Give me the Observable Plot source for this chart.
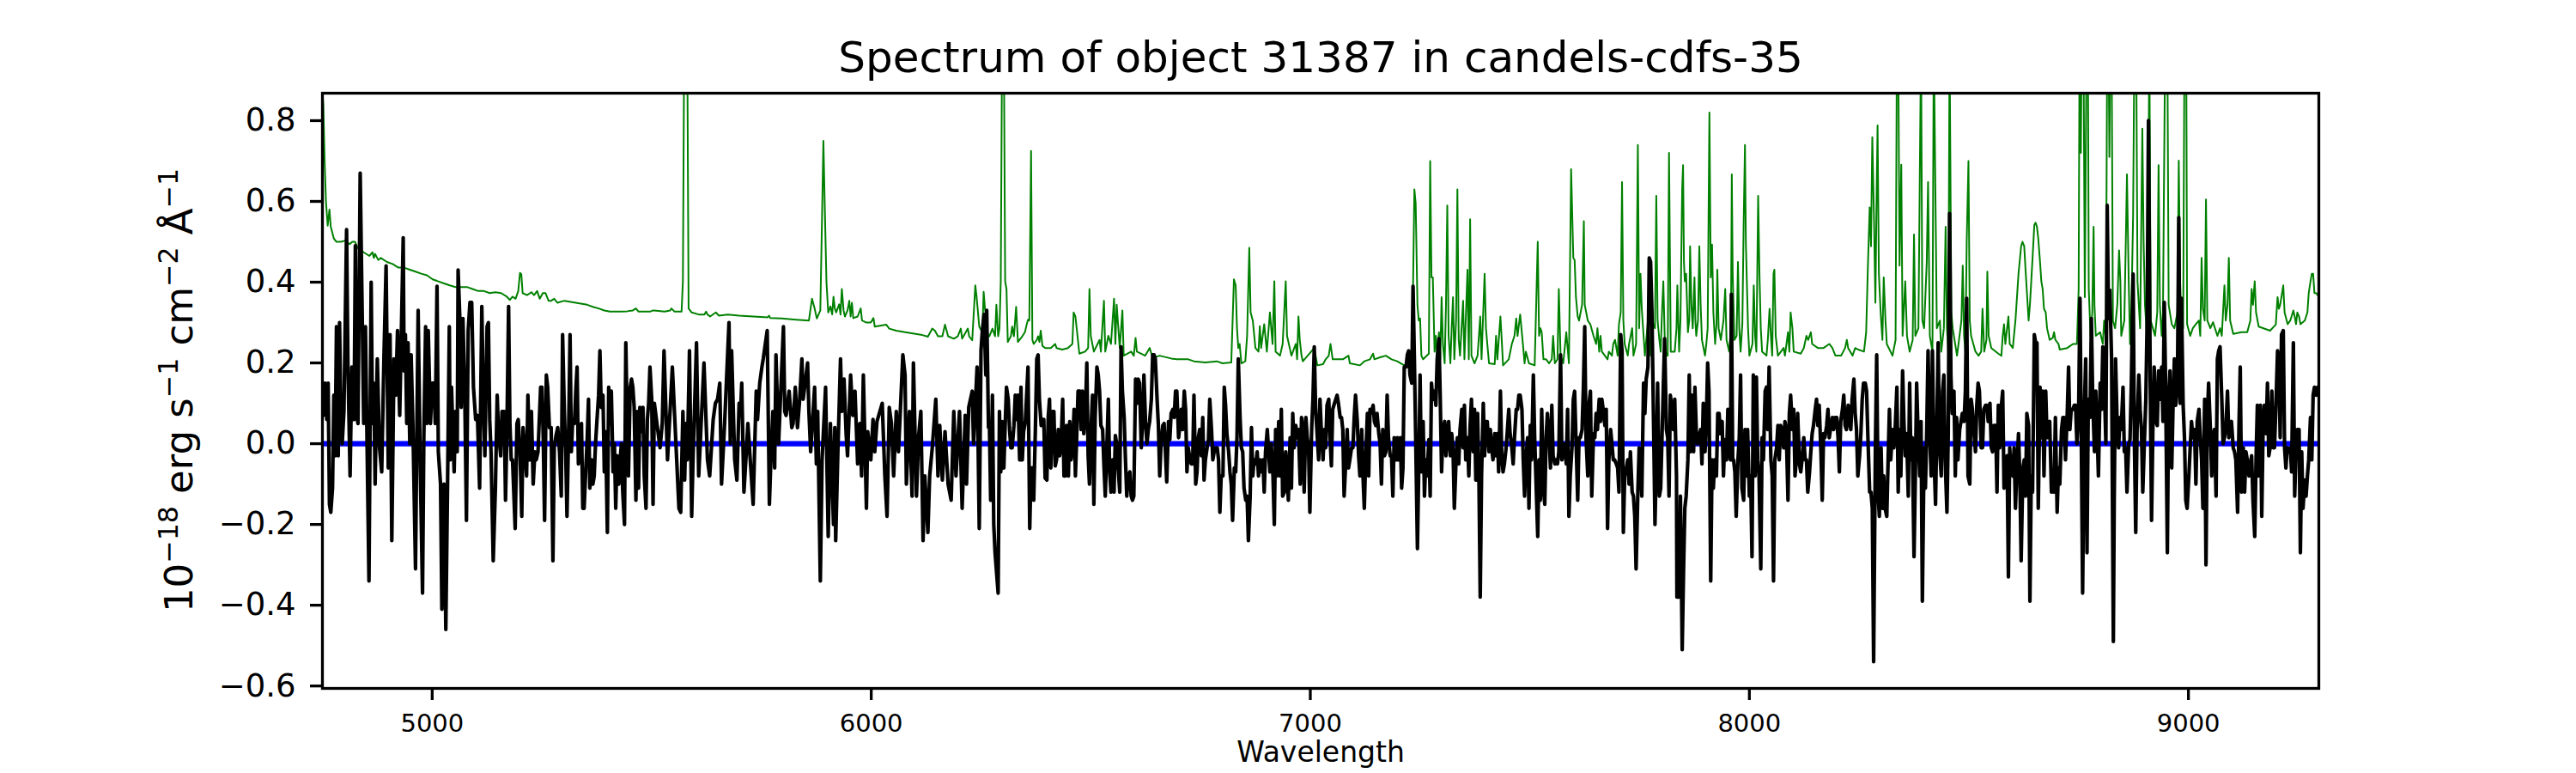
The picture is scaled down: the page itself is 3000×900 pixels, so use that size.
<!DOCTYPE html>
<html>
<head>
<meta charset="utf-8">
<script src="https://cdn.jsdelivr.net/npm/d3@7"></script>
<script src="https://cdn.jsdelivr.net/npm/@observablehq/plot@0.6"></script>
<style>
  html, body { margin: 0; padding: 0; background: white; }
  #chart svg { display: block; }
</style>
</head>
<body>
<div id="chart"></div>
<script>
const titleText = "Spectrum of object 31387 in candels-cdfs-35";
const xLabelText = "Wavelength";
// y label parts: [text, isSuperscript]
const yLabelParts = [["10", false], ["\u221218", true], [" erg s", false], ["\u22121", true], [" cm", false], ["\u22122", true], [" \u00c5", false], ["\u22121", true]];

const xTicks = [5000, 6000, 7000, 8000, 9000];
const yTicks = [-0.6, -0.4, -0.2, 0.0, 0.2, 0.4, 0.6, 0.8];
const xRange = [4750, 9297];
const yRange = [-0.606, 0.868];

// model / continuum (blue)
const model = [[4750, 0], [9297, 0]];

// object flux (black): [wavelength (Angstrom), flux (1e-18 erg/s/cm2/A)]
const flux = [
[4752,.07],[4756,.15],[4760,.06],[4763,.15],[4766,-.15],[4769,-.17],[4773,-.11],[4776,.12],[4779,-.03],[4782,.29],[4786,-.03],[4789,.30],[4792,.07],[4795,0],[4799,.08],[4805,.53],[4808,.20],[4813,-.08],[4817,.19],[4822,.06],[4825,.49],[4828,.07],[4831,.05],[4836,.67],[4841,.29],[4844,.05],[4848,.29],[4851,.05],[4856,-.34],[4861,.40],[4864,.05],[4867,.15],[4870,-.10],[4875,.21],[4880,-.01],[4885,-.07],[4890,.21],[4895,.44],[4900,-.06],[4904,.27],[4908,-.24],[4913,.21],[4917,.12],[4921,.28],[4926,.07],[4930,.29],[4934,.51],[4936,.18],[4939,.27],[4942,.05],[4945,.25],[4949,0],[4952,.22],[4956,.05],[4962,-.31],[4965,.02],[4968,.33],[4973,-.07],[4978,-.37],[4981,.02],[4985,.29],[4988,.05],[4991,.28],[4996,.05],[5000,.15],[5004,.15],[5007,.05],[5011,.39],[5014,-.02],[5019,-.10],[5022,-.41],[5027,-.10],[5031,-.46],[5035,-.10],[5039,.29],[5041,-.04],[5044,.14],[5046,.07],[5050,-.07],[5053,.08],[5057,-.02],[5059,.43],[5063,.31],[5066,.09],[5070,.31],[5074,.14],[5078,-.19],[5082,.28],[5086,.35],[5090,.35],[5094,.14],[5099,.06],[5103,.07],[5108,-.11],[5113,.34],[5117,.09],[5120,-.03],[5125,.29],[5128,.30],[5131,.06],[5134,-.02],[5139,-.29],[5144,-.11],[5148,.12],[5151,.03],[5156,-.03],[5159,.08],[5164,.08],[5167,-.14],[5170,.02],[5174,.34],[5177,.05],[5180,-.04],[5183,-.04],[5189,-.21],[5193,.05],[5196,.06],[5200,-.02],[5204,-.18],[5207,.04],[5211,-.02],[5215,-.08],[5218,.12],[5222,-.04],[5226,.08],[5230,-.10],[5234,-.02],[5237,-.04],[5241,-.02],[5247,.14],[5250,.14],[5253,.01],[5256,-.19],[5260,.17],[5263,.14],[5267,.04],[5271,.04],[5275,-.29],[5278,-.01],[5282,.02],[5286,.04],[5290,-.02],[5294,-.13],[5297,.27],[5301,.08],[5304,-.02],[5307,-.18],[5311,.05],[5314,.27],[5317,-.02],[5320,.06],[5324,.05],[5327,.13],[5330,.19],[5333,-.05],[5337,.01],[5340,.05],[5343,-.16],[5346,-.16],[5350,-.06],[5353,.01],[5356,.11],[5359,-.11],[5363,-.04],[5366,-.10],[5369,-.08],[5372,0],[5376,.07],[5379,.12],[5382,.23],[5385,.09],[5389,.12],[5392,-.07],[5395,.03],[5399,-.22],[5402,.14],[5405,.05],[5408,.13],[5412,-.07],[5415,0],[5418,-.16],[5421,-.03],[5425,-.10],[5428,-.04],[5431,0],[5434,-.12],[5438,-.20],[5441,.25],[5444,.06],[5447,-.08],[5451,.14],[5454,.16],[5457,.14],[5460,.09],[5464,-.14],[5467,.08],[5470,-.11],[5473,.09],[5477,.03],[5480,.09],[5483,-.08],[5487,-.16],[5490,.06],[5493,.10],[5496,.19],[5500,.11],[5503,-.15],
[5506,.10],[5513,.04],[5519,-.01],[5524,.05],[5528,.23],[5536,-.04],[5547,.19],[5562,-.16],[5566,-.17],[5571,.08],[5575,-.09],[5578,.05],[5581,-.04],[5586,.23],[5591,-.18],[5594,-.04],[5602,.25],[5607,-.08],[5619,.20],[5627,-.04],[5632,-.08],[5640,.06],[5645,.10],[5650,.11],[5655,.15],[5659,-.10],[5666,.05],[5676,.30],[5679,0],[5682,.23],[5689,-.04],[5694,-.09],[5699,.10],[5702,.07],[5705,.15],[5710,-.12],[5715,-.03],[5719,.05],[5731,-.15],[5738,.13],[5741,.06],[5746,.15],[5751,.19],[5754,.21],[5763,.28],[5768,-.15],[5772,-.02],[5776,.08],[5780,-.06],[5783,.22],[5789,0],[5800,.29],[5803,.08],[5806,.07],[5813,.13],[5819,.04],[5822,.05],[5827,.14],[5832,.04],[5837,.11],[5842,.21],[5845,.11],[5855,.20],[5858,.08],[5862,-.02],[5871,.14],[5875,-.05],[5878,.08],[5884,-.34],[5888,-.04],[5896,.14],[5902,-.23],[5907,.05],[5914,-.20],[5917,.04],[5919,-.24],[5924,-.02],[5930,.21],[5933,.08],[5938,.16],[5943,.02],[5946,-.03],[5953,.17],[5958,.07],[5963,.13],[5969,-.05],[5974,.05],[5978,-.08],[5982,.17],[5989,-.16],[5992,.03],[5999,-.04],[6004,.06],[6008,-.02],[6013,.055],[6025,.10],[6031,-.08],[6036,-.18],[6041,.09],[6046,.05],[6051,-.08],[6057,.08],[6062,-.02],[6072,.22],[6077,.17],[6080,-.10],[6087,.08],[6093,-.13],[6096,.20],[6103,-.13],[6108,.02],[6113,.08],[6118,-.24],[6122,-.08],[6129,-.22],[6133,-.08],[6139,-.01],[6147,.11],[6152,-.08],[6156,.045],[6162,-.09],[6168,.03],[6175,-.10],[6182,-.14],[6188,.08],[6193,-.08],[6201,.08],[6207,-.16],[6214,.07],[6217,-.10],[6222,.09],[6230,.13],[6233,0],[6241,.19],[6246,-.21],[6250,.23],[6253,.28],[6257,.32],[6261,.17],[6263,.33],[6267,.04],
[6269,.055],[6272,-.14],[6276,.12],[6279,-.20],[6282,-.27],[6289,-.37],[6292,.08],[6295,-.07],[6298,.055],[6302,-.06],[6305,.045],[6308,.14],[6312,.11],[6315,.035],[6318,-.01],[6321,-.01],[6325,.045],[6328,.12],[6331,.06],[6334,.12],[6338,-.04],[6341,.14],[6344,-.04],[6347,.03],[6351,.055],[6357,.19],[6361,-.21],[6364,-.06],[6367,-.06],[6370,-.14],[6374,.045],[6377,.21],[6380,.22],[6383,.11],[6387,.045],[6390,.06],[6393,.06],[6396,-.085],[6400,-.09],[6403,.065],[6406,.11],[6409,-.06],[6413,.08],[6416,.08],[6419,-.055],[6422,-.04],[6426,.035],[6429,-.03],[6432,-.01],[6436,.11],[6439,-.08],[6442,-.08],[6445,.045],[6449,-.08],[6452,.055],[6455,-.04],[6458,-.02],[6462,.085],[6465,-.08],[6468,.02],[6471,.13],[6475,.13],[6478,.035],[6481,.13],[6484,.025],[6488,.085],[6491,.20],[6494,-.03],[6497,-.10],[6501,.045],[6504,.12],[6507,-.15],[6510,.065],[6514,.19],[6517,.17],[6520,.13],[6523,.045],[6527,.035],[6530,-.055],[6533,-.13],[6536,-.03],[6540,.11],[6543,-.07],[6546,-.12],[6550,-.04],[6553,-.12],[6556,.02],[6559,0],[6563,-.07],[6566,-.12],[6569,.24],[6572,.13],[6576,.065],[6579,-.04],[6582,-.13],[6585,-.08],[6589,-.07],[6592,-.13],[6595,-.14],[6598,-.13],[6602,.16],[6605,.10],[6608,.16],[6611,.15],[6615,-.01],[6618,.055],[6621,.17],[6625,.045],[6628,0],[6631,.035],[6634,.055],[6638,.11],[6641,.22],[6644,.22],[6647,.21],[6651,.11],[6654,.045],[6657,-.08],[6660,0],[6664,.045],[6667,.05],[6670,-.02],[6673,-.095],[6677,.055],[6680,.01],[6683,.075],[6687,.085],[6690,.065],[6693,.13],[6696,.13],[6700,.015],[6703,.045],[6706,.085],[6709,.035],[6713,.13],[6716,.085],[6719,-.07],[6722,-.01],[6726,-.04],[6729,-.05],[6732,-.05],[6735,.12],[6739,-.10],[6742,-.07],[6745,.015],[6748,.035],[6752,-.03],[6755,.065],[6758,-.09],[6761,-.04],[6765,-.01],[6768,.01],[6771,.11],[6775,.035],[6778,-.04],[6781,-.02],[6784,-.01],[6788,-.01],[6791,-.04],[6794,-.17],[6797,-.08],[6801,-.08],[6804,.14],[6807,.095],[6810,.025],[6814,-.02],[6817,-.07],[6820,-.10],[6823,-.19],[6827,-.06],[6830,-.07],[6833,.015],[6836,.21],[6840,.065],[6843,-.01],[6846,-.02],[6849,-.11],[6853,-.14],[6856,-.13],[6859,-.24],[6863,-.13],[6866,.04],[6869,-.08],[6872,-.04],[6876,-.05],[6879,-.02],[6882,-.08],[6885,-.04],[6889,-.07],[6892,-.04],[6895,-.12],[6898,-.02],[6902,.035],[6905,-.02],[6908,-.07],[6911,0],[6915,-.08],[6918,-.20],[6921,.035],[6924,-.08],[6928,.055],[6931,-.08],[6934,.085],[6937,-.13],[6941,-.12],[6944,-.02],[6947,-.07],[6950,-.14],[6954,.015],[6957,-.11],[6960,.075],[6963,-.01],[6967,.045],[6970,.015],[6973,.035],[6977,-.10],[6980,.065],[6983,.045],[6986,-.12],[6990,.065],[6993,.015],[6996,-.01],[6999,-.17],[7003,.035],[7006,.11],[7009,.24],[7012,.09],[7016,.015],[7019,-.04],[7022,.11],[7025,.035],[7029,-.04],
[7032,.035],[7035,-.01],[7038,.095],[7042,.11],[7045,.015],[7048,-.055],[7051,.085],[7055,.10],[7058,.11],[7061,.12],[7064,.10],[7068,.065],[7071,.065],[7074,.035],[7077,-.13],[7081,-.04],[7084,.035],[7087,-.06],[7090,-.04],[7094,-.01],[7097,-.01],[7100,.065],[7103,.12],[7107,.055],[7110,-.03],[7113,-.08],[7117,.035],[7120,-.08],[7123,-.16],[7126,-.04],[7130,.075],[7133,-.08],[7136,.085],[7139,.075],[7143,.095],[7146,.055],[7149,.045],[7152,.075],[7156,.025],[7159,0],[7162,-.10],[7165,.035],[7169,-.03],[7172,-.02],[7175,.12],[7178,.015],[7182,-.03],[7185,-.03],[7188,-.13],[7191,.015],[7195,-.04],[7198,.015],[7201,-.04],[7205,.015],[7208,-.11],[7211,-.06],[7214,.19],[7218,.19],[7221,.22],[7224,.23],[7227,.17],[7231,.15],[7234,.39],[7237,.21],[7240,.015],[7244,-.26],[7247,-.06],[7250,.17],[7253,-.07],[7257,.055],[7260,-.13],[7263,-.04],[7266,-.08],[7270,.01],[7273,-.13],[7276,.15],[7279,.11],[7283,.13],[7286,.095],[7289,.21],[7293,.26],[7296,.11],[7299,-.07],[7302,.025],[7306,.055],[7309,-.03],[7312,.015],[7315,.055],[7319,-.03],[7322,.025],[7325,-.01],[7328,-.16],[7332,-.04],[7335,.015],[7338,-.05],[7341,.035],[7345,.085],[7348,-.01],[7351,.095],[7354,-.04],[7358,.015],[7361,-.08],[7364,.045],[7367,.11],[7371,-.02],[7374,.085],[7377,-.09],[7381,.075],[7384,-.08],[7387,-.38],[7390,-.08],[7394,.10],[7397,-.03],[7400,.055],[7403,.055],[7407,-.02],[7410,.035],[7413,-.01],[7416,-.04],[7420,.025],[7423,-.03],[7426,.025],[7429,-.07],[7433,.13],[7436,-.03],[7439,-.07],[7442,-.05],[7446,-.01],[7449,.035],[7452,.085],[7455,.025],[7459,-.01],[7462,-.05],[7465,.015],[7469,.085],[7472,.085],[7475,.12],[7478,.12],[7482,.085],[7485,-.04],[7488,-.13],[7491,-.04],[7495,.015],[7498,-.16],[7501,.045],[7504,-.04],[7508,.17],[7511,.015],[7514,-.09],[7518,-.23],[7521,-.04],[7524,-.14],[7527,.085],[7531,-.11],[7534,-.15],[7537,.015],[7540,.075],[7544,.015],[7547,-.06],[7550,.095],[7553,-.03],[7557,-.05],[7560,-.04],[7563,-.05],[7566,-.02],[7570,.22],[7573,-.04],[7576,0],[7579,-.01],[7583,-.05],[7586,.085],[7589,-.18],[7592,-.08],[7596,-.01],[7599,.11],[7602,.13],[7605,.015],[7609,-.14],[7612,.015],[7615,.015],[7619,.035],[7622,.14],[7625,.29],[7628,.015],[7632,-.08],[7635,.10],[7638,.13],[7641,-.13],[7645,.025],[7648,.015],[7651,.075],[7654,.035],[7658,.11],[7661,.055],[7664,.11],[7667,.085],[7671,.045],[7674,.085],[7677,-.21],[7680,-.04],[7684,.035],[7687,0],[7690,-.04],[7693,-.04],[7697,-.05],[7700,-.06],[7703,-.12],[7707,.27],[7710,.23],[7713,-.22],[7716,-.08],[7720,-.06],[7723,-.04],[7726,-.10],[7729,-.02],[7733,-.12],[7736,-.13],[7739,-.18],[7742,-.31],[7746,-.12],[7749,-.01],[7752,-.04],[7755,-.13],[7759,.15],[7762,.075],[7765,.16],[7769,.19],[7772,.46],[7775,.45],[7778,.33],[7782,.035],[7785,-.20],[7788,-.05],[7791,.15],
[7795,-.13],[7798,-.11],[7801,.015],[7804,.14],[7807,.26],[7811,.035],[7814,.015],[7817,-.13],[7820,.12],[7824,.085],[7827,.035],[7830,.11],[7834,-.08],[7835,-.38],[7840,-.38],[7843,-.13],[7847,-.51],[7850,-.32],[7853,-.16],[7856,-.13],[7860,-.04],[7863,.17],[7866,-.02],[7869,.12],[7873,-.02],[7876,.14],[7879,.035],[7882,0],[7886,.015],[7889,.035],[7892,-.05],[7895,.10],[7899,-.02],[7902,.055],[7905,.20],[7908,.13],[7912,-.34],[7915,-.04],[7918,-.11],[7921,-.04],[7925,-.08],[7928,.075],[7931,.075],[7934,.025],[7938,.055],[7941,-.08],[7944,.01],[7948,-.04],[7951,.085],[7954,-.02],[7957,-.04],[7959,.37],[7962,-.04],[7964,-.04],[7967,-.07],[7970,-.18],[7974,-.04],[7977,.015],[7980,.17],[7983,-.11],[7987,-.14],[7990,.035],[7993,-.08],[7996,.035],[8000,-.13],[8003,-.08],[8006,-.28],[8009,.17],[8013,-.08],[8016,.165],[8019,-.04],[8022,-.08],[8026,-.31],[8029,.015],[8032,-.04],[8036,.13],[8039,.14],[8042,.035],[8045,.19],[8049,-.04],[8052,-.08],[8055,-.34],[8058,-.04],[8062,-.01],[8065,.045],[8068,-.04],[8071,.045],[8075,.035],[8078,-.01],[8081,.055],[8084,.035],[8088,-.14],[8091,.075],[8094,.12],[8098,.035],[8101,.085],[8104,-.08],[8107,-.04],[8110,.075],[8114,-.05],[8117,-.07],[8120,-.04],[8124,.015],[8127,-.04],[8130,-.04],[8133,-.12],[8137,-.07],[8140,-.02],[8143,.025],[8146,.045],[8150,.085],[8153,.11],[8156,.045],[8159,.095],[8163,-.02],[8166,-.14],[8169,.025],[8172,.015],[8176,.045],[8179,.085],[8182,.015],[8186,.045],[8189,.065],[8192,.035],[8195,.065],[8199,.065],[8202,.015],[8205,-.07],[8208,.055],[8212,.085],[8215,.12],[8218,.045],[8221,.035],[8225,.095],[8228,.055],[8231,.035],[8234,.11],[8238,.16],[8241,.075],[8244,.035],[8247,-.08],[8251,-.03],[8254,.025],[8257,.11],[8260,.15],[8264,.15],[8267,.13],[8270,.015],[8274,-.12],[8277,-.12],[8280,-.16],[8283,-.54],[8287,-.01],[8290,.22],[8293,-.12],[8296,-.18],[8300,-.01],[8303,-.16],[8306,-.08],[8309,-.16],[8313,-.18],[8316,-.04],[8319,.085],[8322,-.04],[8326,.035],[8329,-.01],[8332,.035],[8336,.14],[8339,-.12],[8342,.035],[8345,-.08],[8349,.18],[8352,.055],[8355,-.03],[8358,.025],[8362,-.13],[8365,.15],[8368,-.04],[8371,.015],[8375,-.28],[8378,-.08],[8381,.15],[8384,.035],[8388,-.08],[8391,.055],[8394,-.39],[8398,-.01],[8401,-.11],[8404,.035],[8407,.23],[8411,.015],[8414,-.08],[8417,.23],[8420,-.01],[8424,-.15],[8427,.045],[8430,.25],[8433,-.01],[8437,-.08],[8440,.13],[8443,.17],[8446,-.04],[8450,-.17],[8453,.025],[8456,.57],[8459,.17],[8462,.075],[8466,.13],[8469,-.08],[8472,.065],[8475,-.04],[8479,.035],[8482,.055],[8485,.075],[8489,.055],[8492,.13],[8495,.36],[8498,-.08],[8502,-.10],[8505,.11],[8508,.085],[8511,.035],[8515,-.02],[8518,.095],[8521,.15],[8524,.13],[8528,-.01],[8531,-.01],[8534,.085],
[8538,.095],[8541,.095],[8544,.055],[8548,.10],[8551,-.01],[8554,-.02],[8557,.045],[8561,.045],[8564,-.12],[8567,.095],[8570,-.01],[8574,.095],[8577,.13],[8580,-.11],[8583,-.08],[8587,-.03],[8590,-.33],[8593,-.01],[8596,-.07],[8600,-.08],[8603,-.01],[8606,-.16],[8609,-.07],[8613,.025],[8616,-.08],[8619,-.29],[8623,-.06],[8626,-.04],[8629,-.13],[8632,.075],[8636,.045],[8639,-.39],[8642,-.08],[8645,-.12],[8649,.27],[8652,.25],[8655,.25],[8658,-.16],[8662,.14],[8665,.015],[8668,.13],[8671,-.08],[8675,.13],[8678,.015],[8681,.045],[8684,.055],[8688,-.12],[8691,-.08],[8694,-.12],[8697,.065],[8701,-.17],[8704,-.06],[8707,-.10],[8711,.035],[8714,.065],[8717,.065],[8720,-.04],[8724,.075],[8727,.19],[8730,.035],[8733,.085],[8737,.085],[8740,.095],[8743,.095],[8746,0],[8750,.085],[8753,.36],[8756,.015],[8759,-.37],[8763,.085],[8766,.21],[8769,-.27],[8772,.11],[8776,.065],[8779,.31],[8782,.11],[8786,-.02],[8789,.13],[8792,.035],[8795,-.08],[8799,.15],[8802,.085],[8805,.24],[8808,.16],[8812,0],[8815,.59],[8818,.31],[8821,.38],[8825,.21],[8828,-.32],[8829,-.49],[8831,-.14],[8834,.21],[8838,.035],[8841,-.01],[8844,.065],[8847,.035],[8851,.14],[8854,-.02],[8857,-.01],[8860,-.12],[8864,0],[8867,.01],[8870,.15],[8874,.42],[8877,0],[8880,-.22],[8883,.035],[8887,.17],[8890,.085],[8893,.035],[8896,-.12],[8900,.015],[8903,.11],[8906,.31],[8909,.80],[8913,.15],[8916,-.19],[8919,.035],[8922,.19],[8926,.055],[8929,.045],[8932,.18],[8935,.11],[8939,.19],[8942,.055],[8945,.35],[8948,.15],[8952,-.27],[8955,.11],[8958,.18],[8962,-.06],[8965,.095],[8968,.21],[8971,.095],[8975,.15],[8978,.56],[8981,.10],[8984,.36],[8988,.095],[8991,.015],[8994,-.14],[8997,-.16],[9001,-.08],[9004,-.01],[9007,.055],[9010,.015],[9014,.035],[9017,-.10],[9020,.055],[9024,.085],[9027,.015],[9030,-.04],[9033,-.16],[9037,.11],[9040,-.30],[9043,.065],[9046,.15],[9050,.035],[9053,-.08],[9056,.015],[9059,.035],[9063,-.13],[9066,.21],[9069,.23],[9072,.24],[9076,.11],[9079,0],[9082,.015],[9085,.035],[9089,.13],[9092,.015],[9095,.045],[9098,.055],[9102,-.01],[9105,-.02],[9108,-.04],[9112,-.17],[9115,.035],[9118,.19],[9121,-.12],[9125,-.01],[9128,-.12],[9131,-.02],[9134,-.04],[9138,-.08],[9141,-.05],[9144,-.03],[9147,-.14],[9151,-.23],[9154,-.04],[9157,.095],[9160,-.08],[9164,.095],[9167,-.18],[9170,.035],[9173,.095],[9177,.025],[9180,.15],[9183,-.03],[9186,-.01],[9190,.13],[9193,-.01],[9196,-.01],[9199,.085],[9203,.23],[9206,.19],[9209,.015],[9212,.27],[9216,.28],[9219,-.01],[9222,-.06],[9225,-.01],[9229,-.02],[9232,-.01],[9235,-.07],[9239,.25],[9242,-.13],[9245,-.02],[9248,.035],[9252,.035],[9255,-.27],[9258,-.02],[9261,-.16],[9265,-.09],[9268,-.13],[9271,-.08],[9274,-.04],[9278,.065],[9281,-.04],[9284,.12],[9287,.14],[9291,.12],[9294,.14],[9297,.14]
];

// noise / sky (green): [wavelength, value]; lines above the frame are clipped
const noise = [
[4750,.87],[4752,.84],[4755,.70],[4758,.60],[4762,.54],[4766,.58],[4769,.537],[4776,.508],[4782,.50],[4792,.50],[4802,.503],[4812,.494],[4818,.50],[4824,.50],[4831,.484],[4844,.474],[4857,.465],[4864,.474],[4867,.46],[4870,.47],[4877,.455],[4883,.46],[4897,.45],[4910,.445],[4923,.436],[4936,.436],[4949,.431],[4962,.426],[4975,.421],[4988,.417],[5001,.407],[5014,.402],[5027,.397],[5040,.392],[5053,.388],[5066,.388],[5079,.388],[5092,.383],[5105,.378],[5118,.378],[5131,.373],[5144,.375],[5157,.373],[5170,.364],[5177,.356],[5183,.364],[5190,.359],[5196,.378],[5200,.423],[5203,.42],[5206,.373],[5216,.368],[5226,.375],[5232,.368],[5239,.378],[5245,.359],[5252,.373],[5258,.373],[5265,.354],[5271,.354],[5278,.359],[5285,.349],[5301,.354],[5327,.349],[5353,.344],[5366,.339],[5379,.335],[5392,.33],[5405,.327],[5418,.327],[5431,.327],[5444,.328],[5457,.33],[5464,.335],[5470,.327],[5496,.327],[5503,.33],
[5529,.327],[5542,.33],[5545,.335],[5552,.327],[5568,.327],[5571,.402],[5575,1.2],[5580,1.2],[5584,.335],[5591,.325],[5607,.32],[5620,.32],[5624,.327],[5627,.32],[5633,.315],[5646,.325],[5653,.317],[5673,.32],[5699,.317],[5731,.315],[5764,.313],[5767,.317],[5770,.311],[5796,.31],[5829,.307],[5858,.305],[5865,.359],[5871,.335],[5876,.31],[5884,.33],[5888,.565],[5891,.75],[5894,.595],[5898,.40],[5902,.325],[5907,.34],[5911,.32],[5914,.364],[5917,.335],[5920,.325],[5927,.345],[5930,.32],[5933,.383],[5937,.33],[5940,.315],[5946,.33],[5950,.354],[5953,.315],[5956,.349],[5959,.311],[5969,.315],[5976,.335],[5979,.305],[5989,.30],[5999,.30],[6005,.311],[6008,.29],[6034,.295],[6041,.285],[6057,.28],[6077,.276],[6113,.27],[6129,.265],[6139,.285],[6145,.28],[6152,.266],[6162,.266],[6168,.295],[6175,.266],[6188,.26],[6197,.266],[6204,.285],[6207,.26],[6220,.285],[6223,.266],[6230,.256],[6233,.315],[6237,.392],[6240,.363],[6246,.29],[6253,.275],[6256,.376],[6259,.335],[6266,.266],
[6269,.266],[6276,.285],[6282,.266],[6285,.344],[6289,.266],[6292,.285],[6295,.402],[6298,1.0],[6302,1.0],[6305,.402],[6308,.383],[6311,.252],[6318,.266],[6321,.29],[6325,.266],[6330,.339],[6334,.252],[6344,.266],[6350,.276],[6354,.295],[6357,.307],[6360,.305],[6364,.725],[6367,.257],[6370,.247],[6377,.257],[6380,.266],[6383,.252],[6386,.28],[6390,.242],[6396,.237],[6409,.237],[6419,.247],[6422,.237],[6435,.233],[6448,.237],[6458,.247],[6461,.325],[6465,.315],[6468,.285],[6474,.223],[6487,.228],[6494,.237],[6497,.383],[6500,.267],[6507,.228],[6520,.257],[6523,.228],[6530,.354],[6533,.228],[6540,.267],[6546,.247],[6553,.359],[6556,.247],[6559,.344],[6566,.237],[6572,.33],[6575,.218],[6592,.228],[6598,.218],[6602,.262],[6605,.228],[6624,.218],[6634,.237],[6641,.213],[6657,.218],[6683,.211],[6696,.209],[6722,.209],[6735,.204],[6761,.201],[6787,.204],[6800,.199],[6820,.201],[6826,.407],[6830,.392],[6833,.286],[6836,.237],[6839,.247],[6843,.199],[6852,.204],[6856,.266],[6861,.485],[6864,.325],[6869,.305],[6875,.237],[6882,.228],[6885,.291],[6888,.237],[6895,.296],[6901,.228],[6908,.325],[6914,.247],[6918,.402],[6921,.228],[6931,.218],[6937,.247],[6944,.402],[6947,.267],[6957,.218],[6967,.247],[6970,.209],[6973,.315],[6976,.257],[6980,.218],[6983,.204],[7002,.228],[7009,.237],[7016,.194],[7029,.197],
[7035,.209],[7042,.218],[7046,.247],[7051,.209],[7061,.209],[7074,.209],[7087,.218],[7090,.199],[7113,.194],[7123,.204],[7136,.209],[7143,.223],[7146,.209],[7159,.214],[7172,.218],[7185,.209],[7198,.204],[7214,.194],[7224,.199],[7231,.209],[7234,.39],[7237,.63],[7240,.595],[7244,.344],[7247,.305],[7250,.31],[7253,.218],[7257,.209],[7270,.223],[7273,.70],[7276,.412],[7279,.412],[7283,.228],[7286,.267],[7289,.218],[7293,.276],[7296,.209],[7299,.363],[7302,.247],[7306,.199],[7309,.344],[7312,.59],[7315,.267],[7319,.199],[7322,.286],[7325,.363],[7328,.209],[7332,.305],[7335,.63],[7338,.257],[7341,.218],[7348,.354],[7351,.209],[7358,.431],[7361,.209],[7364,.556],[7367,.218],[7374,.199],[7381,.218],[7387,.315],[7390,.209],[7397,.421],[7400,.286],[7407,.199],[7420,.197],[7423,.267],[7426,.209],[7433,.315],[7436,.257],[7439,.194],[7452,.209],[7459,.247],[7465,.267],[7469,.31],[7472,.267],[7478,.32],[7485,.237],[7488,.199],[7491,.228],[7498,.199],[7511,.194],[7518,.50],[7521,.267],[7524,.286],[7527,.276],[7531,.209],[7537,.209],[7544,.199],[7550,.209],[7553,.267],[7557,.199],[7563,.209],[7566,.383],[7570,.218],[7576,.199],[7583,.276],[7589,.199],[7594,.68],[7599,.46],[7602,.455],[7605,.363],[7609,.315],[7612,.305],[7619,.344],[7623,.551],[7625,.344],[7632,.305],[7638,.295],[7645,.267],[7651,.247],[7654,.286],[7658,.228],[7661,.267],[7664,.228],[7671,.218],[7677,.209],[7680,.228],[7687,.218],[7690,.247],[7694,.257],[7700,.218],[7703,.296],[7707,.325],[7710,.648],[7713,.305],[7716,.247],[7723,.218],[7726,.247],[7733,.286],[7736,.218],[7742,.247],[7746,.74],[7749,.286],[7752,.421],[7755,.334],[7759,.267],[7762,.218],[7769,.305],[7775,.218],[7778,.305],[7785,.286],[7788,.614],[7791,.305],
[7795,.257],[7798,.228],[7801,.325],[7804,.402],[7808,.228],[7814,.218],[7817,.72],[7821,.228],[7830,.228],[7834,.286],[7836,.392],[7840,.228],[7843,.305],[7847,.633],[7849,.69],[7851,.45],[7853,.402],[7856,.421],[7860,.276],[7863,.305],[7865,.489],[7868,.344],[7871,.286],[7875,.412],[7877,.305],[7879,.267],[7883,.305],[7886,.489],[7889,.344],[7892,.257],[7899,.218],[7902,.247],[7905,.286],[7909,.82],[7912,.412],[7915,.493],[7918,.325],[7922,.247],[7925,.296],[7927,.431],[7930,.286],[7935,.257],[7941,.305],[7945,.383],[7948,.257],[7954,.228],[7958,.286],[7960,.667],[7962,.421],[7966,.257],[7971,.267],[7974,.45],[7977,.286],[7980,.228],[7984,.296],[7987,.547],[7990,.74],[7992,.498],[7997,.286],[8000,.218],[8007,.247],[8010,.392],[8013,.267],[8016,.228],[8020,.614],[8023,.421],[8026,.286],[8029,.228],[8039,.218],[8042,.257],[8046,.334],[8049,.267],[8052,.218],[8055,.421],[8057,.431],[8060,.267],[8065,.218],[8078,.237],[8081,.218],[8088,.276],[8091,.228],[8094,.325],[8098,.286],[8101,.228],[8117,.223],[8124,.237],[8130,.267],[8134,.257],[8140,.276],[8143,.247],[8156,.237],[8169,.237],[8182,.247],[8189,.237],[8196,.218],[8209,.218],[8218,.237],[8222,.257],[8225,.237],[8235,.218],[8241,.237],[8248,.233],[8261,.228],[8266,.276],[8270,.441],[8274,.585],[8277,.489],[8280,.759],[8284,.547],[8287,.349],[8290,.633],[8292,.788],[8295,.421],[8299,.325],[8303,.257],[8306,.412],[8310,.305],[8313,.247],[8326,.218],[8333,.257],[8336,1.0],[8339,1.0],[8342,.441],[8346,.691],[8349,.267],[8355,.402],[8359,.267],[8365,.228],[8372,.257],[8375,.518],[8378,.267],[8385,.286],[8391,1.0],[8394,.305],[8398,.286],[8404,.45],[8407,.648],[8411,.267],[8417,.228],[8420,1.0],[8427,.286],[8434,.305],[8437,.228],[8443,.286],[8447,.537],[8450,.286],[8453,.228],[8456,1.0],[8460,.325],[8463,.286],[8473,.218],[8483,.305],[8486,.441],[8489,.267],[8492,.228],[8495,.50],[8499,.70],[8502,.305],[8505,.267],[8515,.228],[8522,.218],[8528,.228],[8531,.334],[8535,.228],
[8540,.257],[8542,.426],[8545,.267],[8551,.237],[8567,.223],[8574,.218],[8577,.267],[8580,.296],[8583,.247],[8590,.315],[8593,.247],[8600,.237],[8606,.305],[8613,.421],[8619,.489],[8622,.50],[8626,.489],[8629,.431],[8636,.305],[8639,.344],[8645,.46],[8649,.542],[8652,.547],[8655,.537],[8658,.508],[8662,.45],[8665,.402],[8668,.383],[8671,.334],[8675,.325],[8678,.286],[8684,.257],[8691,.262],[8694,.276],[8697,.257],[8704,.247],[8707,.233],[8724,.237],[8737,.247],[8746,.247],[8750,.383],[8752,1.0],[8755,.72],[8757,1.0],[8761,1.0],[8764,.363],[8768,1.0],[8771,1.0],[8773,.383],[8777,.267],[8781,.325],[8784,.537],[8786,.344],[8789,.267],[8799,.276],[8805,.247],[8808,.305],[8812,.257],[8815,1.0],[8818,1.0],[8820,.71],[8822,1.0],[8825,1.0],[8828,.305],[8833,.286],[8838,.344],[8842,.479],[8845,.402],[8847,.267],[8854,.305],[8857,.479],[8860,.667],[8864,.402],[8867,.247],[8870,.325],[8874,.565],[8877,1.0],[8881,1.0],[8884,.402],[8890,.286],[8895,.78],[8898,.498],[8901,.344],[8905,.276],[8907,.325],[8911,1.0],[8914,.305],[8919,.286],[8924,.267],[8929,.325],[8932,.69],[8935,.344],[8939,.267],[8942,.325],[8947,1.0],[8952,1.0],[8955,.344],[8962,.296],[8968,.286],[8975,.325],[8978,.701],[8981,.402],[8984,.296],[8988,.286],[8991,1.0],[8995,1.0],[8997,.296],[9004,.267],[9010,.286],[9017,.296],[9024,.305],[9027,.267],[9030,.46],[9033,.334],[9037,.305],[9040,.605],[9043,.305],[9050,.286],[9056,.301],[9066,.267],[9072,.286],[9076,.267],[9082,.392],[9085,.305],[9089,.344],[9092,.46],[9095,.305],[9102,.272],[9121,.276],[9134,.276],[9141,.305],[9144,.383],[9147,.344],[9151,.402],[9154,.325],[9160,.29],[9186,.28],[9199,.295],[9203,.363],[9206,.334],[9209,.344],[9216,.392],[9219,.325],[9226,.296],[9232,.305],[9239,.33],[9242,.315],[9245,.296],[9248,.325],[9252,.315],[9255,.296],[9265,.305],[9271,.325],[9274,.373],[9278,.402],[9281,.421],[9284,.421],[9287,.373],[9291,.373],[9294,.368],[9297,.373]
];

const W = 3000, H = 900;
const mL = 375, mR = 300, mT = 108, mB = 99;
const font = "DejaVu Sans";

const chart = Plot.plot({
  width: W, height: H,
  marginLeft: mL, marginRight: mR, marginTop: mT, marginBottom: mB,
  style: {fontFamily: font, background: "white", color: "black", overflow: "visible"},
  x: {domain: xRange},
  y: {domain: yRange},
  marks: [
    Plot.line(noise, {x: d => d[0], y: d => d[1], stroke: "#008000", strokeWidth: 2, strokeLinejoin: "round", clip: true}),
    Plot.line(model, {x: d => d[0], y: d => d[1], stroke: "#0000ff", strokeWidth: 6.25, clip: true}),
    Plot.line(flux, {x: d => d[0], y: d => d[1], stroke: "black", strokeWidth: 4.2, strokeLinejoin: "round", clip: true}),
    Plot.frame({stroke: "black", strokeWidth: 3.3}),
    Plot.axisX(xTicks, {tickSize: 14, tickPadding: 16, fontSize: 29, strokeWidth: 3.3, tickFormat: d => String(d), label: null}),
    Plot.axisY(yTicks, {tickSize: 14, tickPadding: 17, fontSize: 37, strokeWidth: 3.3, tickFormat: d3.format(".1f"), label: null}),
    Plot.text([titleText], {frameAnchor: "top", lineAnchor: "bottom", dy: -25, fontSize: 50, fill: "black"}),
    Plot.text([xLabelText], {frameAnchor: "bottom", lineAnchor: "bottom", dy: 85, fontSize: 33, fill: "black"})
  ]
});

// y-axis label with superscripts (mathtext style)
const yl = d3.select(chart).append("text")
  .attr("transform", `translate(224,${(mT + (H - mB)) / 2}) rotate(-90)`)
  .attr("text-anchor", "middle")
  .attr("font-family", font)
  .attr("font-size", 45)
  .attr("fill", "black");
let raised = false;
for (const [t, sup] of yLabelParts) {
  const ts = yl.append("tspan").text(t);
  if (sup && !raised) { ts.attr("dy", -17).attr("font-size", 31.5); raised = true; }
  else if (sup) { ts.attr("font-size", 31.5); }
  else if (!sup && raised) { ts.attr("dy", 17); raised = false; }
}

document.getElementById("chart").appendChild(chart);
</script>
</body>
</html>
